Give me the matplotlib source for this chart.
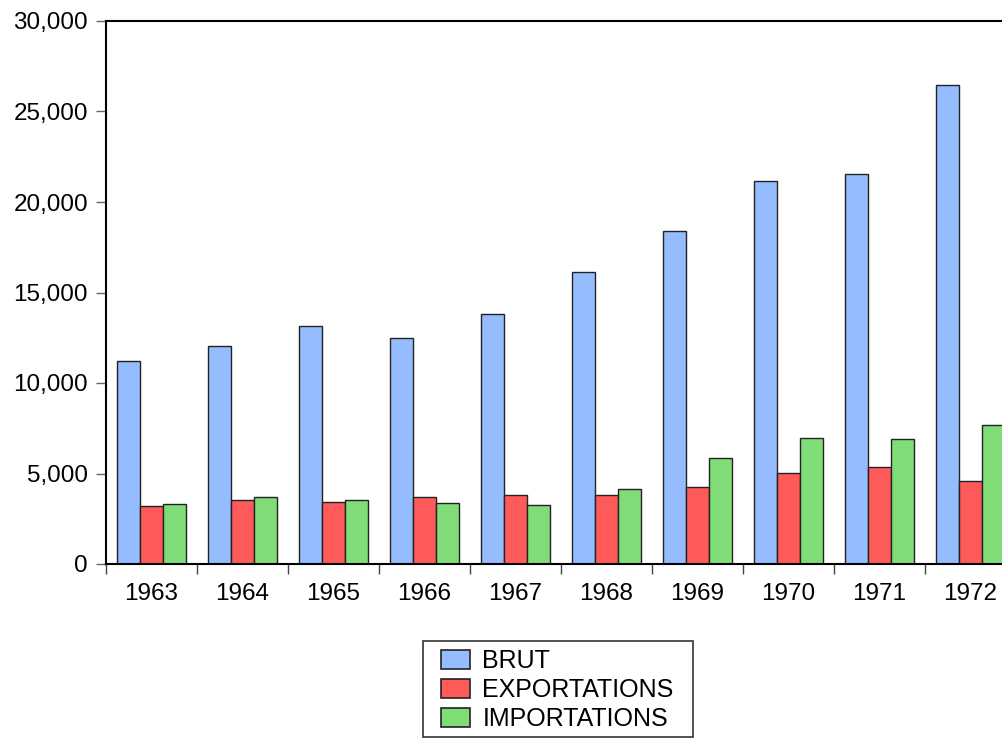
import numpy as np
import matplotlib
matplotlib.use("Agg")
import matplotlib.pyplot as plt
from matplotlib.patches import Rectangle
from matplotlib.ticker import FuncFormatter, FixedLocator

plt.rcParams['font.family'] = ['Liberation Sans', 'DejaVu Sans']

# ---------- Data ----------
years = ["1963", "1964", "1965", "1966", "1967", "1968", "1969", "1970", "1971", "1972"]
brut = [11200, 12030, 13130, 12470, 13790, 16160, 18420, 21180, 21570, 26440]
exportations = [3200, 3510, 3410, 3680, 3790, 3790, 4250, 5020, 5340, 4580]
importations = [3300, 3690, 3560, 3350, 3250, 4140, 5850, 6980, 6880, 7680]

series = [("BRUT", brut, "#94BCFF"),
          ("EXPORTATIONS", exportations, "#FF5A5A"),
          ("IMPORTATIONS", importations, "#80DC76")]

W, H = 1003, 740

# ---------- Figure ----------
fig = plt.figure(figsize=(W / 100, H / 100), dpi=100)
ax = fig.add_axes([106 / W, 176 / H, 910 / W, 543 / H])

x = np.arange(len(years))
w = 0.253
for i, (name, vals, col) in enumerate(series):
    ax.bar(x + (i - 1) * w, vals, width=w, color=col, edgecolor="#222222",
           linewidth=1.0, label=name)

ax.set_xlim(-0.5, len(years) - 0.5)
ax.set_ylim(0, 30000)
ax.set_yticks(np.arange(0, 30001, 5000))
ax.yaxis.set_major_formatter(FuncFormatter(lambda v, p: f"{int(v):,}"))

ax.set_xticks(x)
ax.set_xticklabels(years)
ax.xaxis.set_minor_locator(FixedLocator(np.arange(-0.5, len(years), 1.0)))

ax.tick_params(axis="y", direction="out", length=7, width=1, color="#666666",
               labelsize=17.5, pad=6)
ax.tick_params(axis="x", which="major", length=0, labelsize=17.5, pad=14)
ax.tick_params(axis="x", which="minor", direction="out", length=7, width=1,
               color="#444444")

for s in ["left", "top", "bottom"]:
    ax.spines[s].set_linewidth(1.5)
    ax.spines[s].set_color("black")
ax.spines["right"].set_visible(False)

# legend entries without frame, box drawn separately
leg = fig.legend(loc="upper left", bbox_to_anchor=(441 / W, 1 - 649 / H),
                 bbox_transform=fig.transFigure, borderaxespad=0, borderpad=0,
                 fontsize=18, frameon=False,
                 handlelength=1.16, handleheight=0.82, labelspacing=0.2,
                 handletextpad=0.5)
for p in leg.get_patches():
    p.set_linewidth(1.2)
fig.patches.append(Rectangle((423 / W, 3 / H), 270 / W, 96 / H,
                             transform=fig.transFigure, fill=False,
                             edgecolor="#333333", linewidth=1.2))

fig.savefig("out.png", dpi=100)
